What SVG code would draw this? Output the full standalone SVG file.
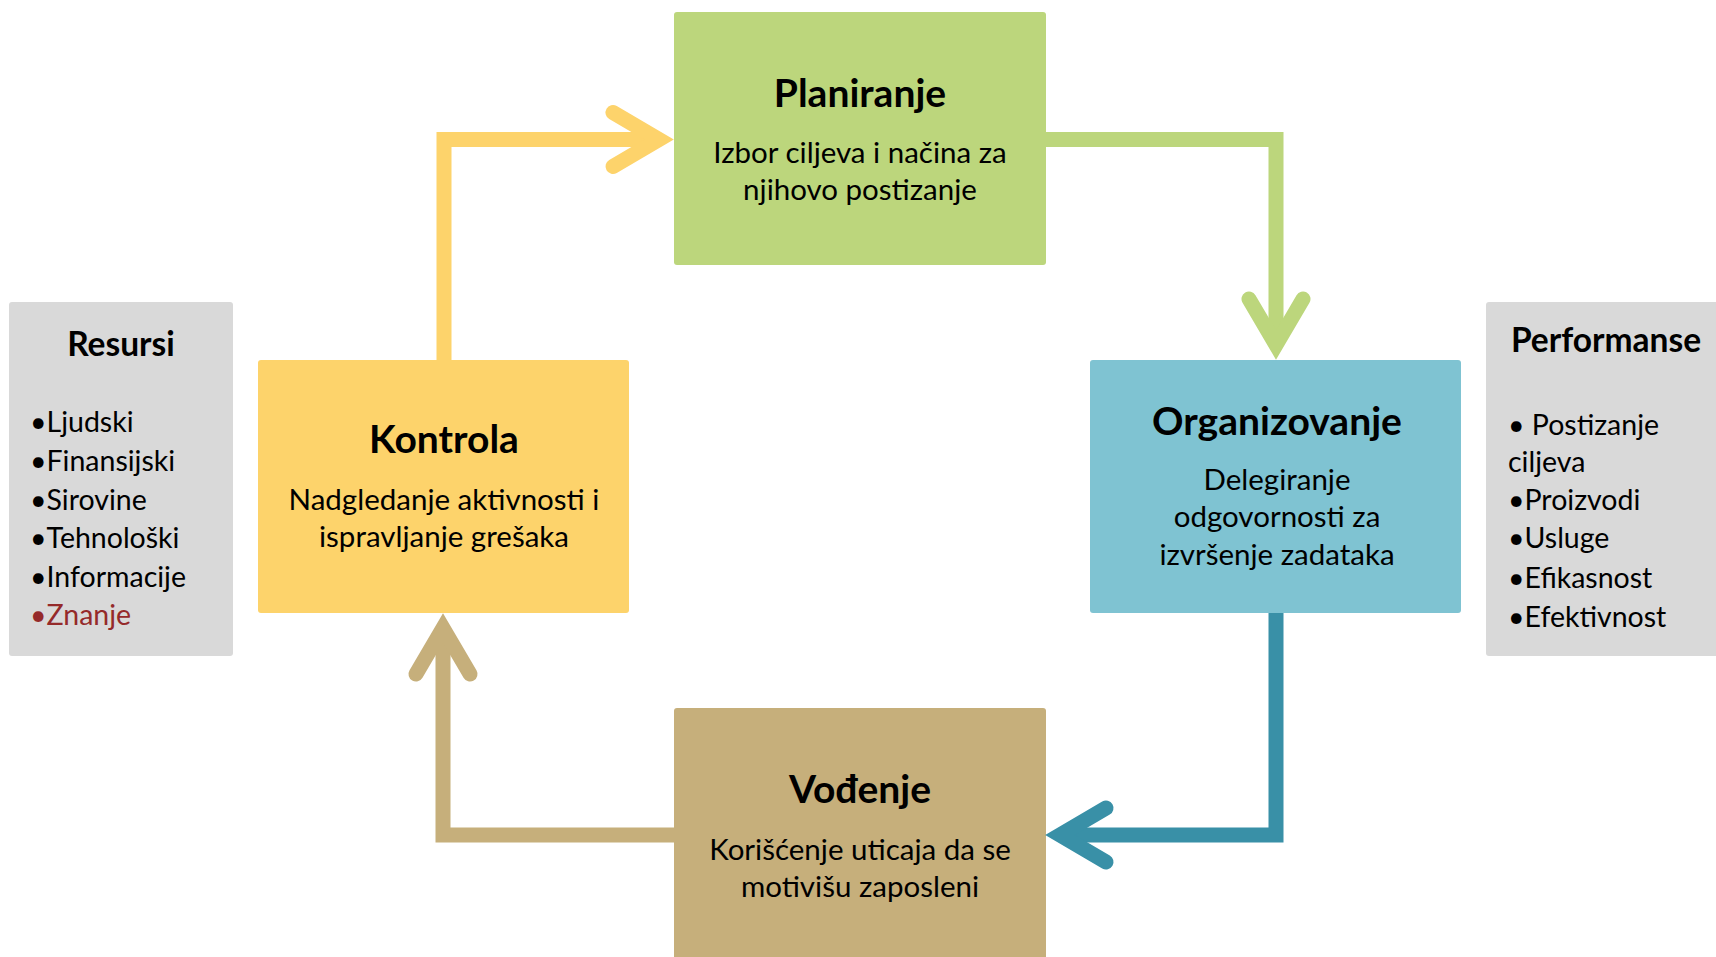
<svg xmlns="http://www.w3.org/2000/svg" width="1716" height="957" viewBox="0 0 1716 957">
<style>
.t{font-family:Lato,"Open Sans","Liberation Sans",sans-serif;fill:#000}
.h{font-weight:bold;font-size:39px;text-anchor:middle}
.b{font-size:29.5px;text-anchor:middle}
.hs{font-weight:bold;font-size:33.5px;text-anchor:middle}
.li{font-size:28.5px}
.con{fill:none;stroke-width:15;stroke-linejoin:miter}
</style>
<defs>
<marker id="aY" markerUnits="userSpaceOnUse" orient="auto" overflow="visible" refX="0" refY="0" markerWidth="10" markerHeight="10"><path d="M-46 -27 L0 0 L-46 27" fill="none" stroke="#FDD36B" stroke-width="15" stroke-linecap="round"/></marker>
<marker id="aG" markerUnits="userSpaceOnUse" orient="auto" overflow="visible" refX="0" refY="0" markerWidth="10" markerHeight="10"><path d="M-46 -27 L0 0 L-46 27" fill="none" stroke="#BCD67C" stroke-width="15" stroke-linecap="round"/></marker>
<marker id="aB" markerUnits="userSpaceOnUse" orient="auto" overflow="visible" refX="0" refY="0" markerWidth="10" markerHeight="10"><path d="M-46 -27 L0 0 L-46 27" fill="none" stroke="#3990A7" stroke-width="15" stroke-linecap="round"/></marker>
<marker id="aT" markerUnits="userSpaceOnUse" orient="auto" overflow="visible" refX="0" refY="0" markerWidth="10" markerHeight="10"><path d="M-46 -27 L0 0 L-46 27" fill="none" stroke="#C6AF7B" stroke-width="15" stroke-linecap="round"/></marker>
</defs>
<rect width="1716" height="957" fill="#fff"/>
<g id="resursi">
<rect x="9" y="302" width="224" height="354" rx="3" fill="#D9D9D9"/>
<text class="t hs" x="121" y="356">Resursi</text>
<text class="t li" x="30" y="432">•Ljudski</text>
<text class="t li" x="30" y="471">•Finansijski</text>
<text class="t li" x="30" y="510">•Sirovine</text>
<text class="t li" x="30" y="548">•Tehnološki</text>
<text class="t li" x="30" y="587">•Informacije</text>
<text class="t li" x="30" y="625" style="fill:#952A2A">•Znanje</text>
</g>
<g id="performanse">
<rect x="1486" y="302" width="240" height="354" rx="3" fill="#D9D9D9"/>
<text class="t hs" x="1606" y="352">Performanse</text>
<text class="t li" x="1508" y="435">• Postizanje</text>
<text class="t li" x="1508" y="472">ciljeva</text>
<text class="t li" x="1508" y="510">•Proizvodi</text>
<text class="t li" x="1508" y="548">•Usluge</text>
<text class="t li" x="1508" y="588">•Efikasnost</text>
<text class="t li" x="1508" y="627">•Efektivnost</text>
</g>
<g id="planiranje">
<rect x="674" y="12" width="372" height="253" rx="3" fill="#BCD67C"/>
<text class="t h" x="860" y="107">Planiranje</text>
<text class="t b" x="860" y="163">Izbor ciljeva i načina za</text>
<text class="t b" x="860" y="200">njihovo postizanje</text>
</g>
<g id="kontrola">
<rect x="258" y="360" width="371" height="253" rx="3" fill="#FDD36B"/>
<text class="t h" x="444" y="453">Kontrola</text>
<text class="t b" x="444" y="510">Nadgledanje aktivnosti i</text>
<text class="t b" x="444" y="547">ispravljanje grešaka</text>
</g>
<g id="organizovanje">
<rect x="1090" y="360" width="371" height="253" rx="3" fill="#7FC3D2"/>
<text class="t h" x="1277" y="435">Organizovanje</text>
<text class="t b" x="1277" y="490">Delegiranje</text>
<text class="t b" x="1277" y="527">odgovornosti za</text>
<text class="t b" x="1277" y="565">izvršenje zadataka</text>
</g>
<g id="vodjenje">
<rect x="674" y="708" width="372" height="260" rx="3" fill="#C6AF7B"/>
<text class="t h" x="860" y="803">Vođenje</text>
<text class="t b" x="860" y="860">Korišćenje uticaja da se</text>
<text class="t b" x="860" y="897">motivišu zaposleni</text>
</g>
<g id="connectors">
<path class="con" d="M444 360 V139.5 H659" stroke="#FDD36B" marker-end="url(#aY)"/>
<path class="con" d="M1046 139.5 H1276 V345" stroke="#BCD67C" marker-end="url(#aG)"/>
<path class="con" d="M1276 613 V835 H1060" stroke="#3990A7" marker-end="url(#aB)"/>
<path class="con" d="M674 835 H443 V628" stroke="#C6AF7B" marker-end="url(#aT)"/>
</g>
</svg>
